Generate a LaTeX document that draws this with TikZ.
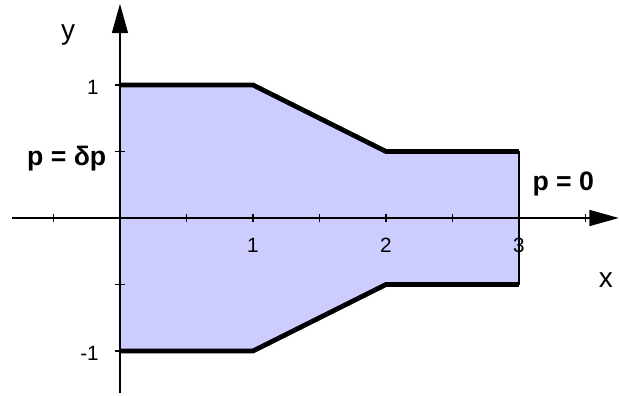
\documentclass[tikz,border=0pt]{standalone}
\usepackage{fontspec}
\setmainfont{Liberation Sans}
\usetikzlibrary{arrows.meta}
\definecolor{regionfill}{HTML}{CCCCFF}
\tikzset{
  axisline/.style={line width=1.1pt, -{Triangle[length=22pt,width=12pt]}},
  boundary/.style={line width=3.6pt, line join=miter},
  thinedge/.style={line width=1.3pt},
  tickmark/.style={line width=1pt},
  ticklabel/.style={font=\fontsize{15.5}{18}\selectfont, inner sep=0pt},
  axislabel/.style={font=\fontsize{21}{24}\selectfont, inner sep=0pt},
  bclabel/.style={font=\bfseries\fontsize{20}{24}\selectfont, inner sep=0pt, anchor=base west},
}
\begin{document}
\begin{tikzpicture}[x=99.75pt,y=99.75pt]
\useasboundingbox (-0.902,-1.338) rectangle (3.752,1.639);
% region corners
\coordinate (tl) at (0,1);
\coordinate (t1) at (1,1);
\coordinate (t2) at (2,0.5);
\coordinate (tr) at (3,0.5);
\coordinate (br) at (3,-0.5);
\coordinate (b2) at (2,-0.5);
\coordinate (b1) at (1,-1);
\coordinate (bl) at (0,-1);
\fill[regionfill] (tl) -- (t1) -- (t2) -- (tr) -- (br) -- (b2) -- (b1) -- (bl) -- cycle;
% axes
\coordinate (xs) at (-0.81,0);
\coordinate (xe) at (3.75,0);
\coordinate (ys) at (0,-1.316);
\coordinate (ye) at (0,1.61);
\draw[axisline] (xs) -- (xe);
\draw[axisline] (ys) -- (ye);
\foreach \x in {-0.5,0.5,1,1.5,2,2.5,3,3.5}
  \draw[tickmark] (\x,-0.032) -- (\x,0.032);
\foreach \y in {-1,-0.5,0.5,1}
  \draw[tickmark] (-0.04,\y) -- (0.04,\y);
% boundaries
\draw[boundary] (tl) -- (t1) -- (t2) -- (tr);
\draw[boundary] (bl) -- (b1) -- (b2) -- (br);
\draw[thinedge] (tr) -- (br);
% labels
\node[ticklabel, anchor=east] (ly1) at (-0.158,0.985) {1};
\node[ticklabel, anchor=east] (lym1) at (-0.158,-1.02) {-1};
\node[ticklabel, anchor=north] (lx1) at (1,-0.15) {1};
\node[ticklabel, anchor=north] (lx2) at (2,-0.15) {2};
\node[ticklabel, anchor=north] (lx3) at (3,-0.15) {3};
\node[axislabel] (ylab) at (-0.39,1.376) {y};
\node[axislabel] (xlab) at (3.654,-0.466) {x};
\node[bclabel] (inlet) at (-0.70,0.398) {p = δp};
\node[bclabel] (outlet) at (3.10,0.21) {p = 0};
\end{tikzpicture}
\end{document}
